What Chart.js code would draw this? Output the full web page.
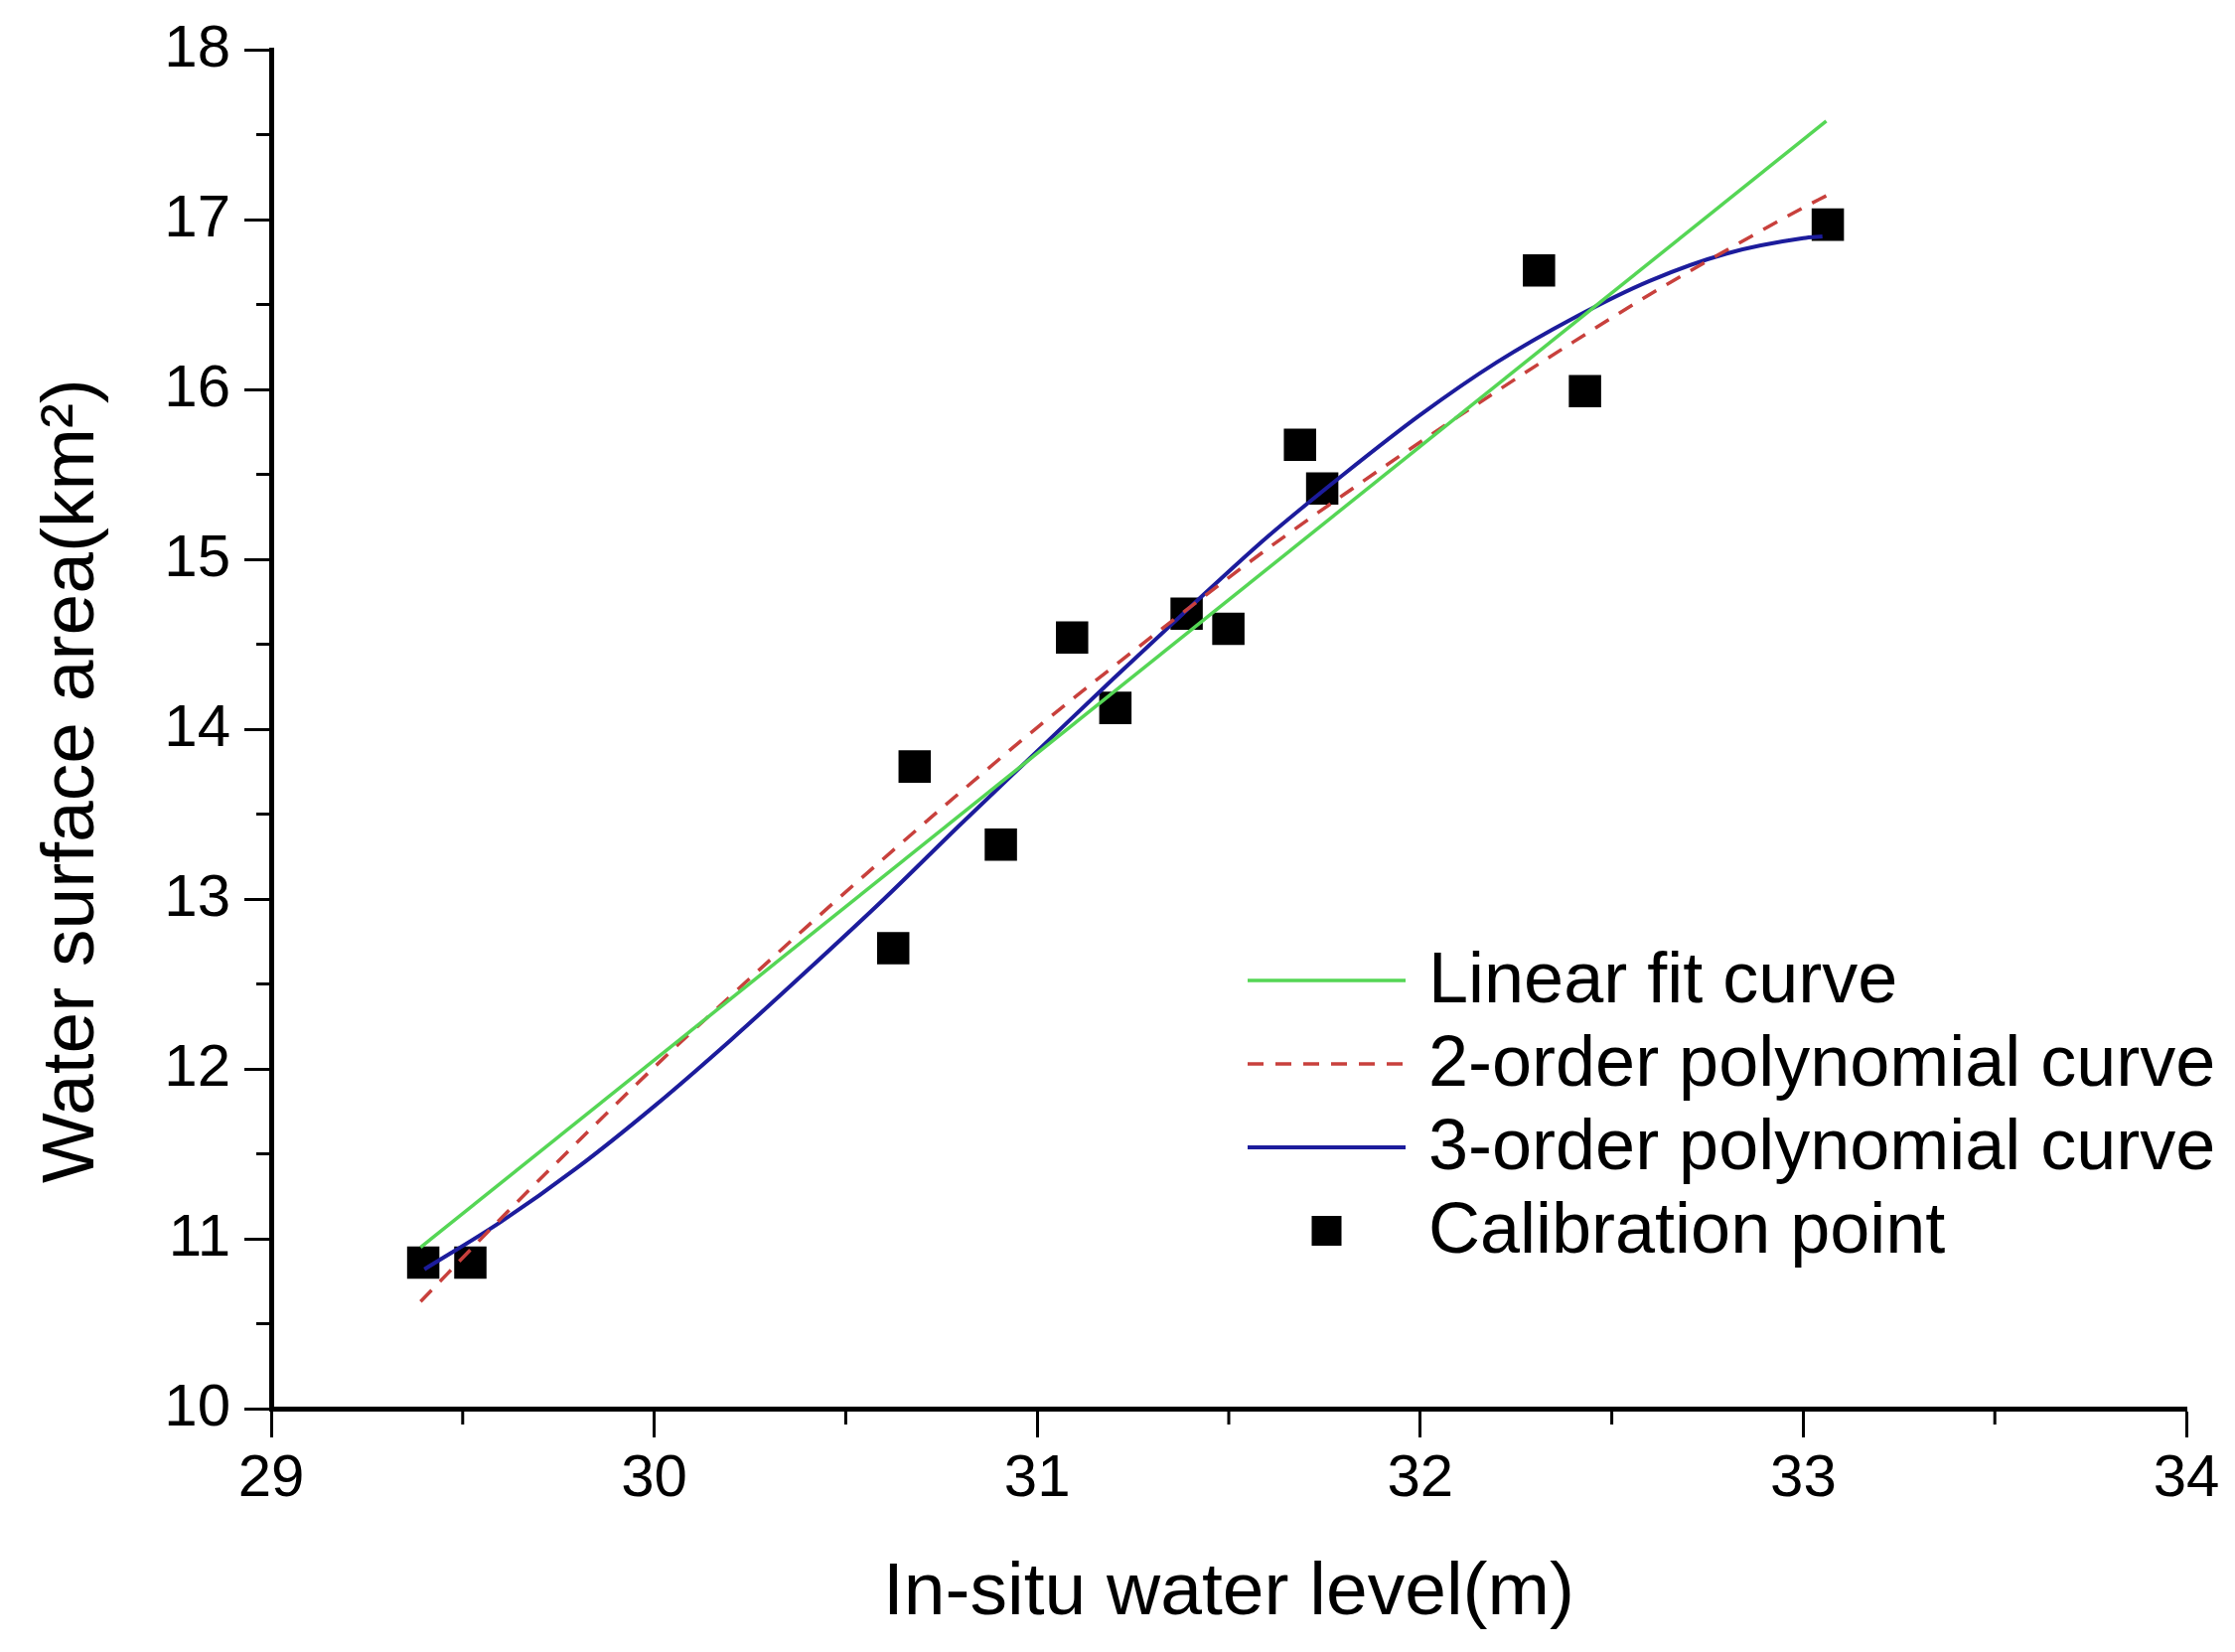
<!DOCTYPE html>
<html>
<head>
<meta charset="utf-8">
<script src="https://cdn.jsdelivr.net/npm/chart.js@4.4.1/dist/chart.umd.min.js"></script>
<style>
  html, body { margin: 0; padding: 0; background: #fff; }
  canvas { display: block; }
</style>
</head>
<body>
<canvas id="levelChart" width="2250" height="1663"></canvas>
<script>
// calibration points
const levelPoints = [29.397, 29.52, 30.624, 30.68, 30.905, 31.091, 31.204, 31.39, 31.499, 31.686, 31.744, 32.31, 32.43, 33.064];
const areaPoints  = [10.86, 10.86, 12.71, 13.78, 13.32, 14.54, 14.125, 14.68, 14.59, 15.674, 15.417, 16.70, 15.99, 16.97];

// linear fit curve
const linearX = [29.39, 33.06];
const linearY = [10.95, 17.58];

// 2-order polynomial curve (dashed)
const quadX = [29.39, 29.6, 29.8, 30.0, 30.2, 30.4, 30.6, 30.8, 31.0, 31.2, 31.4, 31.6, 31.8, 32.0, 32.2, 32.4, 32.6, 32.8, 33.0, 33.06];
const quadY = [10.63, 11.12, 11.57, 12.01, 12.43, 12.84, 13.24, 13.63, 14.01, 14.37, 14.72, 15.06, 15.38, 15.69, 15.99, 16.28, 16.56, 16.82, 17.07, 17.14];

// 3-order polynomial curve
const cubicX = [29.4, 29.6, 29.8, 30.0, 30.2, 30.4, 30.6, 30.8, 31.0, 31.2, 31.4, 31.6, 31.8, 32.0, 32.2, 32.4, 32.6, 32.8, 33.0, 33.05];
const cubicY = [10.82, 11.10, 11.42, 11.78, 12.17, 12.58, 13.00, 13.44, 13.87, 14.30, 14.72, 15.13, 15.50, 15.85, 16.16, 16.42, 16.64, 16.80, 16.89, 16.90];

const xTicks = [29, 30, 31, 32, 33, 34];
const yTicks = [10, 11, 12, 13, 14, 15, 16, 17, 18];

const seriesNames = ['Linear fit curve', '2-order polynomial curve', '3-order polynomial curve', 'Calibration point'];

const FONT = "'Liberation Sans', Arial, Helvetica, sans-serif";

function toXY(xs, ys) {
    return xs.map((x, i) => ({ x: x, y: ys[i] }));
}

// short minor ticks at the half steps
const minorTicks = {
    id: 'minorTicks',
    afterDraw(chart) {
        const c = chart.ctx;
        const xs = chart.scales.x, ys = chart.scales.y;
        const area = chart.chartArea;
        c.save();
        c.strokeStyle = '#000';
        c.lineWidth = 3;
        c.beginPath();
        for (let v = xs.min + 0.5; v < xs.max; v += 1) {
            const px = xs.getPixelForValue(v);
            c.moveTo(px, area.bottom);
            c.lineTo(px, area.bottom + 16);
        }
        for (let v = ys.min + 0.5; v < ys.max; v += 1) {
            const py = ys.getPixelForValue(v);
            c.moveTo(area.left, py);
            c.lineTo(area.left - 15, py);
        }
        c.stroke();
        c.restore();
    }
};

// legend drawn inside the plot, lower right
const insideLegend = {
    id: 'insideLegend',
    afterDraw(chart) {
        const c = chart.ctx;
        const rows = [987, 1071, 1155, 1239];
        const x0 = 1256, x1 = 1415, tx = 1438;
        c.save();
        chart.data.datasets.forEach((ds, i) => {
            const y = rows[i];
            if (ds.showLine) {
                c.strokeStyle = ds.borderColor;
                c.lineWidth = ds.borderWidth;
                c.setLineDash(ds.borderDash || []);
                c.beginPath();
                c.moveTo(x0, y);
                c.lineTo(x1, y);
                c.stroke();
                c.setLineDash([]);
            } else {
                c.fillStyle = ds.backgroundColor;
                c.fillRect((x0 + x1) / 2 - 15, y - 15, 30, 30);
            }
            c.fillStyle = '#000';
            c.font = '72px ' + FONT;
            c.textAlign = 'left';
            c.textBaseline = 'middle';
            c.fillText(ds.label, tx, y + 2);
        });
        c.restore();
    }
};

const ctx = document.getElementById('levelChart');

new Chart(ctx, {
    type: 'scatter',
    data: {
        datasets: [
            {
                label: seriesNames[0],
                data: toXY(linearX, linearY),
                showLine: true,
                borderColor: '#55d655',
                borderWidth: 3.5,
                pointRadius: 0
            },
            {
                label: seriesNames[1],
                data: toXY(quadX, quadY),
                showLine: true,
                borderColor: '#c8403c',
                borderWidth: 3.5,
                borderDash: [16, 12],
                cubicInterpolationMode: 'monotone',
                pointRadius: 0
            },
            {
                label: seriesNames[2],
                data: toXY(cubicX, cubicY),
                showLine: true,
                borderColor: '#1c1c9c',
                borderWidth: 4,
                cubicInterpolationMode: 'monotone',
                pointRadius: 0
            },
            {
                label: seriesNames[3],
                data: toXY(levelPoints, areaPoints),
                showLine: false,
                pointStyle: 'rect',
                pointRadius: 23,
                pointHoverRadius: 23,
                pointBorderWidth: 0,
                backgroundColor: '#000',
                borderColor: '#000'
            }
        ]
    },
    options: {
        responsive: false,
        devicePixelRatio: 1,
        animation: false,
        layout: { padding: { left: 0, right: 49, top: 50, bottom: 0 } },
        plugins: {
            legend: { display: false },
            tooltip: { enabled: false }
        },
        scales: {
            x: {
                type: 'linear',
                min: 29,
                max: 34,
                afterFit: s => { s.height = 245; s.paddingLeft = 0; s.paddingRight = 0; },
                grid: {
                    drawOnChartArea: false,
                    drawTicks: true,
                    tickLength: 29,
                    tickWidth: 3,
                    tickColor: c => xTicks.includes(c.tick.value) ? '#000' : 'rgba(0,0,0,0)'
                },
                border: { display: true, color: '#000', width: 5 },
                ticks: {
                    stepSize: 0.5,
                    autoSkip: false,
                    maxRotation: 0,
                    padding: 6,
                    color: '#000',
                    font: { family: FONT, size: 60, lineHeight: 1.2 },
                    callback: v => xTicks.includes(v) ? String(v) : ''
                },
                title: {
                    display: true,
                    text: 'In-situ water level(m)',
                    color: '#000',
                    font: { family: FONT, size: 75, lineHeight: 1.2 },
                    padding: { top: 0, bottom: 14 }
                }
            },
            y: {
                type: 'linear',
                min: 10,
                max: 18,
                afterFit: s => { s.width = 273; s.paddingTop = 0; s.paddingBottom = 0; },
                grid: {
                    drawOnChartArea: false,
                    drawTicks: true,
                    tickLength: 27,
                    tickWidth: 3,
                    tickColor: c => yTicks.includes(c.tick.value) ? '#000' : 'rgba(0,0,0,0)'
                },
                border: { display: true, color: '#000', width: 5 },
                ticks: {
                    stepSize: 0.5,
                    autoSkip: false,
                    padding: 14,
                    color: '#000',
                    font: { family: FONT, size: 60, lineHeight: 1.2 },
                    callback: v => yTicks.includes(v) ? String(v) : ''
                },
                title: {
                    display: true,
                    text: 'Water surface area(km²)     ',
                    color: '#000',
                    font: { family: FONT, size: 75, lineHeight: 1.2 },
                    padding: { top: 28, bottom: 0 }
                }
            }
        }
    },
    plugins: [minorTicks, insideLegend]
});
</script>
</body>
</html>
